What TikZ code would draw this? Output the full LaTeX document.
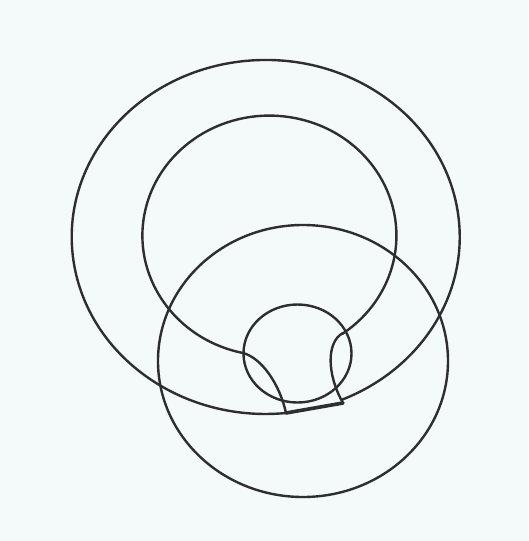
\documentclass[tikz,border=0pt]{standalone}
\definecolor{bgc}{HTML}{F4F9F9}
\definecolor{ink}{HTML}{2E2E2E}
\begin{document}
\begin{tikzpicture}[x=1pt,y=-1pt,
  wire/.style={draw=ink,line width=2.4pt,line cap=round,line join=round}]
\fill[bgc] (0,0) rectangle (528,541);
\useasboundingbox (0,0) rectangle (528,541);
% junction points
\coordinate (jl) at (286,413);
\coordinate (jr) at (343,403);
\coordinate (il) at (243,353);
\coordinate (ir) at (343,333);
% outer loop
\draw[wire] (jl) arc[start angle=84,end angle=426.6,x radius=194,y radius=177];
% inner loop
\draw[wire] (il) arc[start angle=102,end angle=415,x radius=127,y radius=120];
% necks
\draw[wire] (il) .. controls (262,358) and (280,385) .. (jl);
\draw[wire] (ir) .. controls (326,342) and (327,375) .. (jr);
% bar
\draw[draw=ink,line width=3.6pt,line cap=round] (jl) -- (jr);
% big lower circle
\draw[wire] (303,361) ellipse[x radius=145,y radius=136];
% small circle
\draw[wire] (297.5,353.5) ellipse[x radius=54,y radius=49];
\end{tikzpicture}
\end{document}
